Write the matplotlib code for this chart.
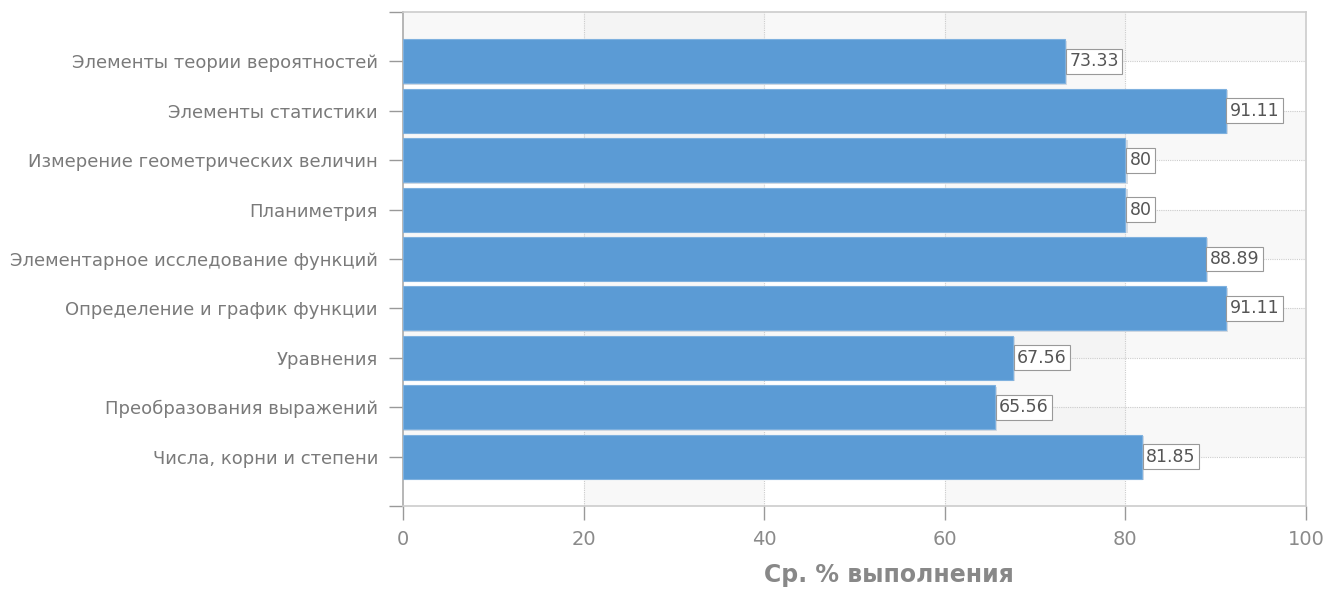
import matplotlib.pyplot as plt

categories = [
    "Числа, корни и степени",
    "Преобразования выражений",
    "Уравнения",
    "Определение и график функции",
    "Элементарное исследование функций",
    "Планиметрия",
    "Измерение геометрических величин",
    "Элементы статистики",
    "Элементы теории вероятностей",
]
values = [81.85, 65.56, 67.56, 91.11, 88.89, 80, 80, 91.11, 73.33]
value_labels = ["81.85", "65.56", "67.56", "91.11", "88.89", "80", "80", "91.11", "73.33"]
x_ticks = [0, 20, 40, 60, 80, 100]

fig = plt.figure(figsize=(13.36, 5.9), dpi=100)
ax = fig.add_axes([0.3016, 0.1424, 0.9775 - 0.3016, 0.9797 - 0.1424])

ypos = list(range(len(categories)))
ax.set_xlim(0, 100)
ax.set_ylim(-1, len(categories))

# interlaced background bands (very faint)
for i in range(-1, len(categories)):
    if (len(categories) - 1 - i) % 2 == 0:
        ax.axhspan(i, i + 1, color="#f2f2f2", alpha=0.5, zorder=0, lw=0)
for k in range(len(x_ticks) - 1):
    if k % 2 == 1:
        ax.axvspan(x_ticks[k], x_ticks[k + 1], color="#f2f2f2", alpha=0.5, zorder=0, lw=0)

# grid
for x in x_ticks[1:-1]:
    ax.axvline(x, color="#cccccc", lw=0.8, ls=(0, (1, 1)), zorder=1)
for y in ypos:
    ax.axhline(y, color="#cccccc", lw=0.8, ls=(0, (1, 1)), zorder=1)

# shadow then bars
ax.barh([y - 0.03 for y in ypos], [v + 0.25 for v in values], height=0.89,
        color="#d3dae2", zorder=2, lw=0)
ax.barh(ypos, values, height=0.89, color="#5b9bd5", edgecolor="#7fb1df",
        lw=0.8, zorder=3)

for y, v, lab in zip(ypos, values, value_labels):
    ax.text(v + 0.45, y, lab, va="center", ha="left", fontsize=12.5, color="#555555",
            zorder=4,
            bbox=dict(boxstyle="square,pad=0.2", fc="white", ec="#999999", lw=0.8))

ax.set_yticks([-1] + ypos + [len(categories)])
ax.set_yticklabels([""] + categories + [""], fontsize=13, color="#7a7a7a")
ax.set_xticks(x_ticks)
ax.set_xticklabels([str(t) for t in x_ticks], fontsize=14, color="#8a8a8a")
ax.tick_params(axis="y", length=10, width=1, color="#999999", pad=8)
ax.tick_params(axis="x", length=10, width=1, color="#999999", pad=7)

for side in ["left", "bottom", "top", "right"]:
    ax.spines[side].set_color("#cccccc")
    ax.spines[side].set_linewidth(1.2)
ax.spines["left"].set_color("#aaaaaa")

ax.set_xlabel("Ср. % выполнения", fontsize=17, fontweight="bold", color="#888888")
ax.xaxis.set_label_coords(0.5377, -0.115)

fig.savefig("out.png", dpi=100)
